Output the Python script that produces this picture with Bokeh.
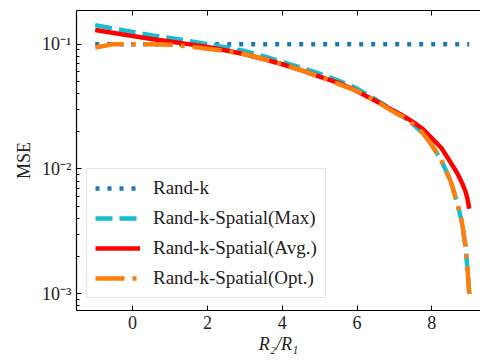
from bokeh.plotting import figure
from bokeh.models import (LinearAxis, FixedTicker, CustomJSTickFormatter, Legend,
                          LegendItem, Range1d)
from bokeh.embed import file_html
from bokeh.resources import INLINE

# ---- data ----
x_vals = [-1, -0.5, 0, 0.5, 1, 1.5, 2, 2.5, 3, 3.5, 4, 4.5, 5, 5.5, 6, 6.5,
          7, 7.25, 7.5, 7.75, 8, 8.25, 8.5, 8.6, 8.7, 8.8, 8.9, 8.95, 9]

rand_k_x = [-1, 9]
rand_k_y = [0.1, 0.1]

mse_max = [0.142, 0.133, 0.125, 0.118, 0.112, 0.106, 0.100, 0.094, 0.088, 0.080,
           0.072, 0.065, 0.058, 0.051, 0.044, 0.036, 0.029, 0.026, 0.0228, 0.0195,
           0.0155, 0.0118, 0.0080, 0.0064, 0.0050, 0.0038, 0.0024, 0.0016, 0.0010]

mse_avg = [0.130, 0.123, 0.116, 0.110, 0.105, 0.100, 0.095, 0.089, 0.083, 0.076,
           0.069, 0.062, 0.055, 0.049, 0.042, 0.035, 0.029, 0.0265, 0.0237, 0.0210,
           0.0176, 0.0148, 0.0113, 0.0101, 0.0090, 0.0078, 0.0066, 0.0058, 0.0048]

mse_opt = [0.094, 0.100, 0.100, 0.100, 0.099, 0.096, 0.092, 0.088, 0.083, 0.076,
           0.069, 0.062, 0.055, 0.048, 0.042, 0.035, 0.0284, 0.026, 0.0228, 0.0195,
           0.0155, 0.0118, 0.0080, 0.0064, 0.0050, 0.0038, 0.0024, 0.0016, 0.0010]

x_ticks = [0, 2, 4, 6, 8]
labels = ["Rand-k", "Rand-k-Spatial(Max)", "Rand-k-Spatial(Avg.)", "Rand-k-Spatial(Opt.)"]

FONT = "Liberation Serif"
FS = "18px"

p = figure(width=480, height=360, y_axis_type="log",
           x_range=Range1d(-1.5, 9.3), y_range=Range1d(7.35e-4, 0.186),
           output_backend="svg", toolbar_location=None,
           min_border_left=76, min_border_right=0, min_border_top=10, min_border_bottom=50)
p.outline_line_color = None
p.grid.visible = False
p.background_fill_color = "white"
p.border_fill_color = "white"

r1 = p.line(rand_k_x, rand_k_y, line_color="#1f77b4", line_width=4.5, line_dash="4 8")
r2 = p.line(x_vals, mse_max, line_color="#17becf", line_width=4.5, line_dash="17 7")
r3 = p.line(x_vals, mse_avg, line_color="#ff0000", line_width=4.5)
r4 = p.line(x_vals, mse_opt, line_color="#ff7f0e", line_width=4.5, line_dash="29 8 4 8")

# axes styling
xa = p.xaxis[0]
xa.ticker = FixedTicker(ticks=x_ticks)
ya = p.yaxis[0]
ya.formatter = CustomJSTickFormatter(code="""
const e = Math.round(Math.log10(tick));
const sup = {'-':'\u207b','0':'\u2070','1':'\u00b9','2':'\u00b2','3':'\u00b3','4':'\u2074','5':'\u2075','6':'\u2076','7':'\u2077','8':'\u2078','9':'\u2079'};
return '10' + String(e).split('').map(c => sup[c]).join('');
""")
for ax in (xa, ya):
    ax.axis_line_color = "black"
    ax.axis_line_width = 1.2
    ax.major_tick_line_color = "black"
    ax.minor_tick_line_color = "black"
    ax.major_tick_in = 5
    ax.major_tick_out = 0
    ax.minor_tick_in = 3
    ax.minor_tick_out = 0
    ax.major_label_text_font = FONT
    ax.major_label_text_font_size = FS
    ax.major_label_text_color = "#222222"
    ax.axis_label_text_font = FONT
    ax.axis_label_text_font_size = FS
    ax.axis_label_text_color = "#222222"
xa.minor_tick_line_color = None
xa.major_label_standoff = 5
ya.major_label_standoff = 5
xa.axis_label = "R\u2082/R\u2081"
xa.axis_label_text_font_style = "italic"
xa.axis_label_standoff = 2
ya.axis_label = "MSE"
ya.axis_label_text_font_style = "normal"
ya.axis_label_standoff = 5

top = LinearAxis(ticker=FixedTicker(ticks=x_ticks),
                 formatter=CustomJSTickFormatter(code="return '';"))
top.major_label_standoff = 0
top.axis_line_color = "black"
top.axis_line_width = 1.2
top.major_tick_line_color = "black"
top.major_tick_in = 5
top.major_tick_out = 0
top.minor_tick_line_color = None
p.add_layout(top, "above")

legend = Legend(items=[LegendItem(label=labels[0], renderers=[r1]),
                       LegendItem(label=labels[1], renderers=[r2]),
                       LegendItem(label=labels[2], renderers=[r3]),
                       LegendItem(label=labels[3], renderers=[r4])],
                location=(10, 12), margin=0, padding=8, spacing=8,
                glyph_width=45, glyph_height=20, label_height=20,
                label_standoff=13,
                label_text_font=FONT, label_text_font_size="19px",
                label_text_color="#222222",
                border_line_color="#cccccc", border_line_width=1,
                background_fill_color="white", background_fill_alpha=0.8)
p.add_layout(legend, "center")

open("out.html", "w").write(file_html(p, INLINE))
